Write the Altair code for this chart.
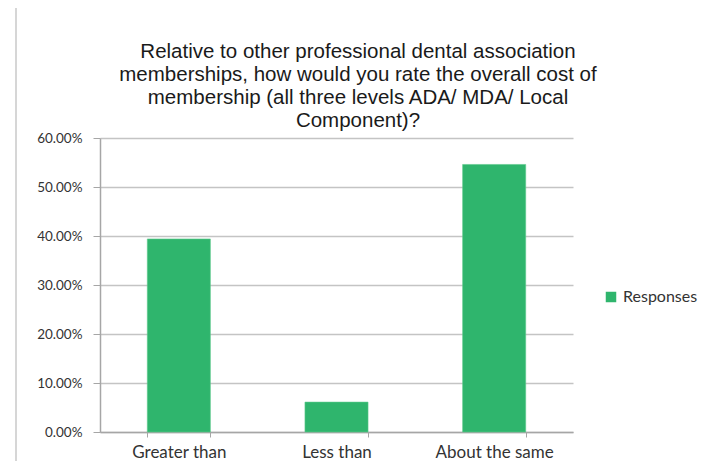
import altair as alt
import pandas as pd

categories = ["Greater than", "Less than", "About the same"]
values = [0.394, 0.061, 0.546]
series_name = "Responses"
title_lines = [
    "Relative to other professional dental association",
    "memberships, how would you rate the overall cost of",
    "membership (all three levels ADA/ MDA/ Local",
    "Component)?",
]
y_ticks = [0, 0.1, 0.2, 0.3, 0.4, 0.5, 0.6]

df = pd.DataFrame({"category": categories, "value": values, "series": series_name})

GREEN = "#2fb56d"
GRID = "#c4c4c4"

bars = alt.Chart(df).mark_bar(color=GREEN, stroke="#5cc98c", strokeWidth=0.6).encode(
    x=alt.X(
        "category:N",
        sort=categories,
        title=None,
        scale=alt.Scale(paddingInner=0.6, paddingOuter=0.3),
        axis=alt.Axis(
            labelAngle=0,
            tickBand="extent",
            labelFont="Lato",
            labelFontSize=17,
            labelColor="#333333",
            labelPadding=7,
            tickSize=5,
            tickColor="#a6a6a6",
            domainColor="#a6a6a6",
            domainWidth=1.5,
            grid=False,
        ),
    ),
    y=alt.Y(
        "value:Q",
        title=None,
        scale=alt.Scale(domain=[0, 0.6], nice=False),
        axis=alt.Axis(
            values=y_ticks,
            format=".2%",
            labelFont="Lato",
            labelFontSize=13.5,
            labelColor="#333333",
            labelPadding=11,
            tickSize=7,
            tickColor="#a6a6a6",
            domainColor="#a6a6a6",
            domainWidth=1.5,
            gridColor=GRID,
            gridWidth=1.5,
        ),
    ),
    fill=alt.Fill(
        "series:N",
        scale=alt.Scale(range=[GREEN]),
        legend=alt.Legend(
            title=None,
            orient="none",
            legendX=503,
            legendY=151,
            symbolType="square",
            symbolSize=110,
            symbolStrokeWidth=0,
            labelFont="Lato",
            labelFontSize=16,
            labelColor="#333333",
            labelOffset=4,
        ),
    ),
)

title_df = pd.DataFrame({"title": ["\n".join(title_lines)]})
title_text = alt.Chart(title_df).mark_text(
    font="Liberation Sans",
    fontSize=20.5,
    color="#1a1a1a",
    lineHeight=23,
    lineBreak="\n",
    align="center",
    baseline="alphabetic",
).encode(text="title:N", x=alt.value(258), y=alt.value(-80))

frame_df = pd.DataFrame({"side": ["left", "right"]})
left_border = alt.Chart(frame_df.iloc[:1]).mark_rule(color="#c8c8c8", strokeWidth=1.5).encode(
    x=alt.value(-84), y=alt.value(-130), y2=alt.value(340)
)
right_border = alt.Chart(frame_df.iloc[1:]).mark_rule(color="#c8c8c8", strokeWidth=1.5).encode(
    x=alt.value(615), y=alt.value(-130), y2=alt.value(340)
)

chart = alt.layer(bars, title_text, left_border, right_border).properties(
    width=473,
    height=294,
    autosize=alt.AutoSizeParams(type="none"),
    padding={"left": 92, "top": 130, "right": 136, "bottom": 29},
).configure(background="white", view=alt.ViewConfig(stroke=None))

chart.save("out.html", embed_options={"renderer": "svg", "actions": False})
